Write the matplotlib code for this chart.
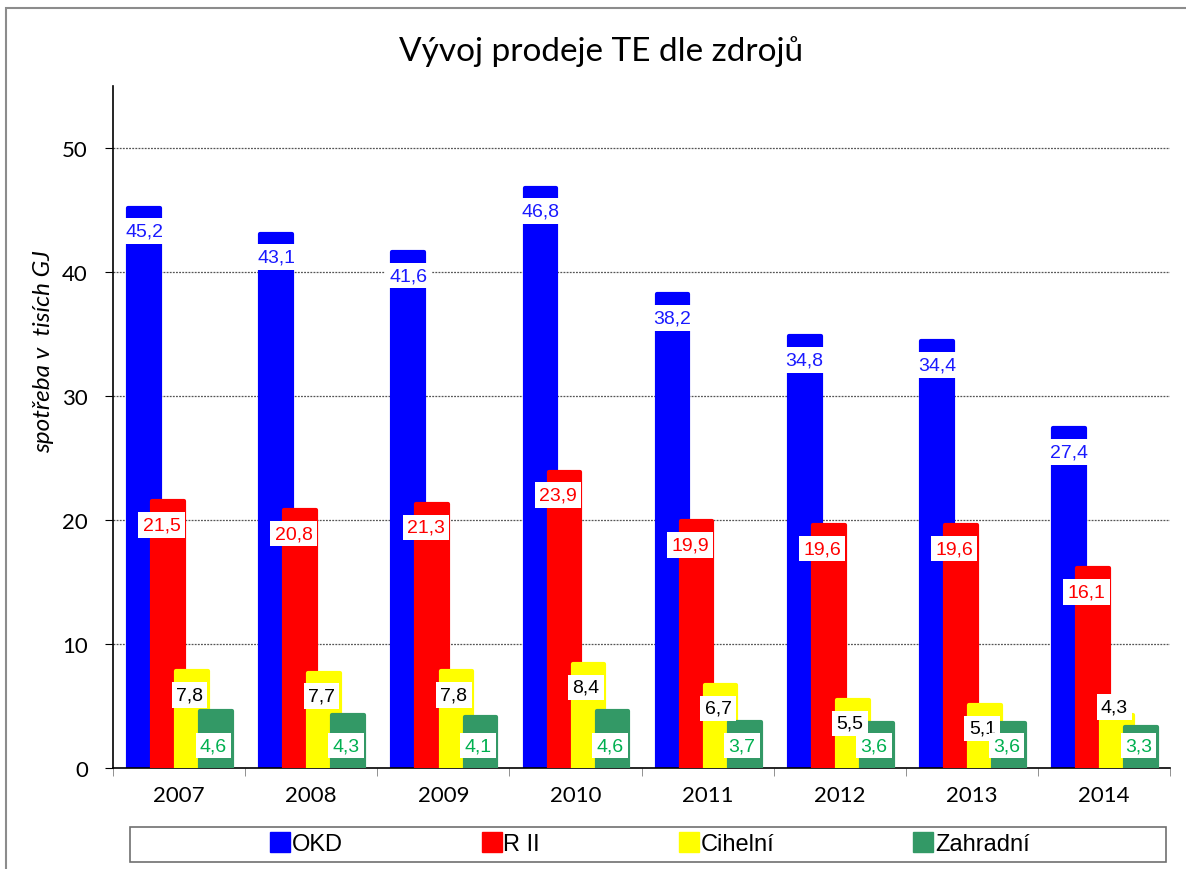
import matplotlib
matplotlib.use('Agg')
import matplotlib.pyplot as plt
from matplotlib.lines import Line2D
from matplotlib.patches import Rectangle
import numpy as np

years = ['2007', '2008', '2009', '2010', '2011', '2012', '2013', '2014']
okd = [45.2, 43.1, 41.6, 46.8, 38.2, 34.8, 34.4, 27.4]
r2 = [21.5, 20.8, 21.3, 23.9, 19.9, 19.6, 19.6, 16.1]
cihelni = [7.8, 7.7, 7.8, 8.4, 6.7, 5.5, 5.1, 4.3]
zahradni = [4.6, 4.3, 4.1, 4.6, 3.7, 3.6, 3.6, 3.3]

names = ['OKD', 'R II', 'Cihelní', 'Zahradní']
series = [okd, r2, cihelni, zahradni]
colors = ['#0000FF', '#FF0000', '#FFFF00', '#339966']
label_colors = ['#1a1aff', '#ff0000', '#000000', '#00b050']

W, H = 1186, 870
fig = plt.figure(figsize=(W / 100, H / 100), dpi=100)
ax = fig.add_axes([113 / W, 1 - 769 / H, (1170 - 113) / W, (769 - 87) / H])

x = np.arange(len(years))
width = 0.24
step = 0.182
for k, (vals, col) in enumerate(zip(series, colors)):
    off = -0.265 + k * step
    ax.bar(x + off, vals, width, color=col, edgecolor=col, linewidth=3,
           joinstyle='round', zorder=2 + k)
    # data labels, white boxes just under the top of each bar
    for i, v in enumerate(vals):
        if k == 3:
            y = 1.8
        else:
            y = v - 1.9
            if y < 3.0:
                y = v + 0.6
        lx = x[i] + off - (0.05 if k == 1 else 0.02 if k > 1 else 0)
        ax.text(lx, y, f'{v:.1f}'.replace('.', ','), ha='center', va='center',
                fontsize=14, family='Liberation Sans', color=label_colors[k],
                bbox=dict(boxstyle='square,pad=0.22', fc='white', ec='none'),
                zorder=10 + k)

ax.set_xlim(-0.5, len(years) - 0.5)
ax.set_ylim(0, 55)
ax.set_yticks(range(0, 51, 10))
ax.set_xticks(x)
ax.set_xticklabels(years)
ax.set_xticks(np.arange(-0.5, len(years)), minor=True)
ax.tick_params(axis='x', which='major', length=0, pad=12, labelsize=16)
ax.tick_params(axis='x', which='minor', length=6, color='#808080')
ax.tick_params(axis='y', length=6, labelsize=16, pad=12)
for lab in ax.get_xticklabels() + ax.get_yticklabels():
    lab.set_family('Lato')
for s in ['top', 'right']:
    ax.spines[s].set_visible(False)
ax.spines['left'].set_linewidth(1.2)
ax.spines['bottom'].set_linewidth(1.2)
for gy in range(10, 51, 10):
    ax.axhline(gy, color='#555555', linestyle=(0, (1.5, 1)), linewidth=0.9, zorder=1)

fig.text(601 / W, 1 - 52 / H, 'Vývoj prodeje TE dle zdrojů', ha='center', va='center',
         fontsize=24, family='Lato')
fig.text(44 / W, 1 - 352 / H, 'spotřeba v  tisích GJ', ha='center', va='center',
         rotation=90, fontsize=17.5, family='Lato', style='italic')

# outer frame of the chart area
fig.patches.append(Rectangle((6 / W, -0.1), 1.2, 1 - 9 / H + 0.1, transform=fig.transFigure,
                             fill=False, ec='#8c8c8c', lw=1.5))
# legend frame
fig.patches.append(Rectangle((130 / W, 1 - 863 / H), (1166 - 130) / W, 35 / H,
                             transform=fig.transFigure, fill=False, ec='#707070', lw=1.2))

handles = [Line2D([], [], marker='s', linestyle='none', markersize=14, color=c,
                  markeredgecolor=c) for c in colors]
fig.legend(handles, names, loc='center', bbox_to_anchor=(650 / W, 1 - 845 / H), ncol=4,
           frameon=False, prop={'family': 'Liberation Sans', 'size': 17},
           handlelength=0.8, handletextpad=0.1, columnspacing=5.9, borderpad=0)

plt.savefig('out.png', dpi=100)
